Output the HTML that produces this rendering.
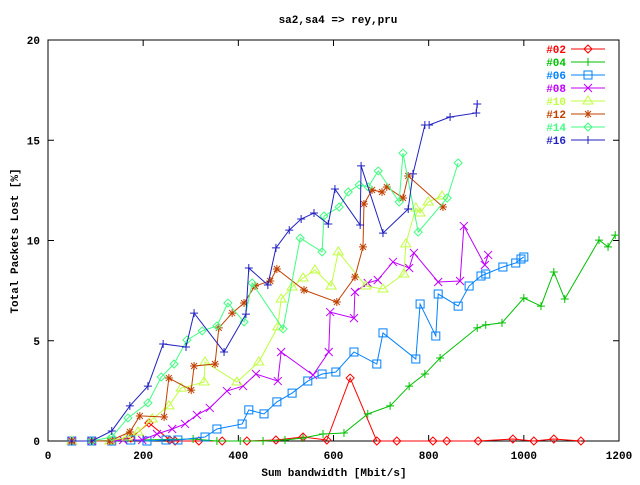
<!DOCTYPE html>
<html><head><meta charset="utf-8"><style>
body{margin:0;background:#fff;width:640px;height:480px;overflow:hidden}
svg text{font-family:"Liberation Mono",monospace;font-size:11px;font-weight:bold}
</style></head><body>
<svg id="chart" width="640" height="480" xmlns="http://www.w3.org/2000/svg">
<rect width="640" height="480" fill="#fff"/>
<text x="338" y="23" text-anchor="middle" fill="#000">sa2,sa4 =&gt; rey,pru</text>
<text x="334" y="476" text-anchor="middle" fill="#000">Sum bandwidth [Mbit/s]</text>
<text x="0" y="0" transform="translate(18,241) rotate(-90)" text-anchor="middle" fill="#000">Total Packets Lost [%]</text>
<g id="axes"></g>
<g id="series"></g>
<g id="legend"></g>
</svg>
<script>
const xTicks=[0,200,400,600,800,1000,1200];
const yTicks=[0,5,10,15,20];
const seriesNames=["#02","#04","#06","#08","#10","#12","#14","#16"];
const seriesColors=["#ff0000","#00c000","#0080ff","#c000ff","#c0ff40","#c04000","#40ff80","#2020c0"];
const seriesMarkers=["diamond","plus","square","cross","triangle","star","diamond","plus"];
const s02x=[50,92,134,174,212,256,267,317,366,418,479,536,586,635,691,733,809,838,904,977,1021,1063,1120];
const s02y=[0,0,0,0.15,0.9,0.05,0,0,0,0,0.05,0.2,0.05,3.14,0,0,0,0,0,0.1,0,0.1,0];
const s04x=[50,92,305,355,404,452,498,536,578,622,672,719,759,792,824,902,920,954,1000,1036,1063,1086,1158,1177,1192];
const s04y=[0,0,0.1,0,0,0,0.05,0.15,0.35,0.4,1.35,1.75,2.74,3.34,4.14,5.64,5.79,5.89,7.13,6.73,8.43,7.08,10.02,9.68,10.27];
const s06x=[50,92,134,174,208,248,273,330,355,408,422,454,481,513,546,576,605,643,691,704,773,782,815,820,862,885,910,920,956,983,994,1000];
const s06y=[0,0,0,0.05,0,0.05,0.05,0.2,0.6,0.85,1.55,1.35,1.95,2.39,2.99,3.34,3.44,4.44,3.84,5.39,4.09,6.83,5.24,7.33,6.73,7.73,8.23,8.33,8.68,8.88,9.08,9.18];
const s08x=[50,92,134,158,198,229,261,288,313,340,376,410,437,483,490,557,590,593,643,645,672,693,725,759,769,820,866,874,918,925];
const s08y=[0,0,0,0.05,0.05,0.35,0.6,0.85,1.3,1.65,2.49,2.74,3.34,2.99,4.44,3.29,4.44,6.43,6.13,7.43,7.88,8.03,8.93,8.63,9.38,7.93,7.98,10.72,8.78,9.28];
const s10x=[50,130,166,189,219,254,280,328,330,397,443,483,490,513,536,561,595,610,668,704,748,752,773,782,799,828];
const s10y=[0,0,0.2,0.45,1.1,1.75,2.64,2.94,3.94,2.94,3.94,5.69,7.08,7.68,8.13,8.53,7.73,9.43,7.73,7.58,8.33,9.83,11.62,11.37,11.92,12.22];
const s12x=[50,92,130,172,193,244,254,301,307,351,359,387,412,435,467,481,538,607,645,662,664,681,702,712,746,757,830];
const s12y=[0,0,0,0.45,1.25,1.2,3.14,2.54,3.74,3.84,5.64,6.38,6.88,7.73,7.98,8.58,7.53,6.93,8.18,9.68,11.82,12.52,12.42,12.67,12.12,13.22,11.67];
const s14x=[92,134,168,210,238,265,292,324,355,378,412,429,494,530,576,580,612,631,654,673,694,738,746,778,839,862];
const s14y=[0,0.2,1.15,1.9,3.19,3.84,5.04,5.49,5.74,6.88,5.94,7.88,5.59,10.12,9.43,11.22,11.67,12.42,12.77,12.67,13.47,11.92,14.36,10.42,12.12,13.87];
const s16x=[50,92,134,172,210,242,290,307,370,416,422,462,479,507,532,559,589,603,656,658,704,757,767,792,801,845,900,902];
const s16y=[0,0,0.5,1.75,2.74,4.84,4.69,6.38,4.44,6.33,8.63,7.78,9.63,10.52,11.07,11.37,10.82,12.57,10.77,13.72,10.37,11.57,13.32,15.76,15.76,16.16,16.36,16.81];
const allX=[s02x,s04x,s06x,s08x,s10x,s12x,s14x,s16x];
const allY=[s02y,s04y,s06y,s08y,s10y,s12y,s14y,s16y];

const L=48,R=619,T=40,B=441;
const sx=v=>L+(v-0)/1200*(R-L);
const sy=v=>B-(v-0)/20*(B-T);
const NS="http://www.w3.org/2000/svg";
function mk(tag,attrs,parent){const e=document.createElementNS(NS,tag);for(const k in attrs)e.setAttribute(k,attrs[k]);parent.appendChild(e);return e;}
const axes=document.getElementById('axes');
const frame=mk('rect',{x:L,y:T,width:R-L,height:B-T,fill:'none',stroke:'#000','stroke-width':1},axes);


xTicks.forEach(t=>{
  const x=sx(t);
  const l1=mk('line',{x1:x,y1:B,x2:x,y2:B-6,stroke:'#000'},axes);
  
  
  const l2=mk('line',{x1:x,y1:T,x2:x,y2:T+6,stroke:'#000'},axes);
  
  
  const tx=mk('text',{x:x,y:459,'text-anchor':'middle',fill:'#000'},axes);
  tx.textContent=t;
  
  
});
yTicks.forEach(t=>{
  const y=sy(t);
  const l1=mk('line',{x1:L,y1:y,x2:L+6,y2:y,stroke:'#000'},axes);
  
  
  const l2=mk('line',{x1:R,y1:y,x2:R-6,y2:y,stroke:'#000'},axes);
  
  
  const tx=mk('text',{x:40,y:y+4,'text-anchor':'end',fill:'#000'},axes);
  tx.textContent=t;
  
  
});
function marker(type,x,y,c,parent){
  const s=4;let d;
  if(type==='diamond')d=`M${x} ${y-s}L${x+s} ${y}L${x} ${y+s}L${x-s} ${y}Z`;
  else if(type==='plus')d=`M${x-s} ${y}H${x+s}M${x} ${y-s}V${y+s}`;
  else if(type==='square')d=`M${x-s} ${y-s}H${x+s}V${y+s}H${x-s}Z`;
  else if(type==='cross')d=`M${x-s} ${y-s}L${x+s} ${y+s}M${x+s} ${y-s}L${x-s} ${y+s}`;
  else if(type==='triangle')d=`M${x} ${y-s-1}L${x+s+1} ${y+s-1}L${x-s-1} ${y+s-1}Z`;
  else d=`M${x-s} ${y}H${x+s}M${x} ${y-s}V${y+s}M${x-s+1} ${y-s+1}L${x+s-1} ${y+s-1}M${x+s-1} ${y-s+1}L${x-s+1} ${y+s-1}`;
  return mk('path',{d:d,fill:'none',stroke:c,'stroke-width':1},parent);
}
const sg=document.getElementById('series');
const lg=document.getElementById('legend');
allX.forEach((xs,i)=>{
  const c=seriesColors[i];
  const g=mk('g',{},sg);
  
  
  const pts=xs.map((v,j)=>sx(v)+','+sy(allY[i][j])).join(' ');
  const pl=mk('polyline',{points:pts,fill:'none',stroke:c,'stroke-width':1},g);
  
  
  xs.forEach((v,j)=>{
    const m=marker(seriesMarkers[i],sx(v),sy(allY[i][j]),c,g);
    
    
  });
  const ly=49+i*13;
  const le=mk('g',{},lg);
  
  
  const t=mk('text',{x:566,y:ly+4,'text-anchor':'end',fill:c},le);
  t.textContent=seriesNames[i];
  mk('line',{x1:571,y1:ly,x2:605,y2:ly,stroke:c},le);
  marker(seriesMarkers[i],588,ly,c,le);
});
</script>
</body></html>
